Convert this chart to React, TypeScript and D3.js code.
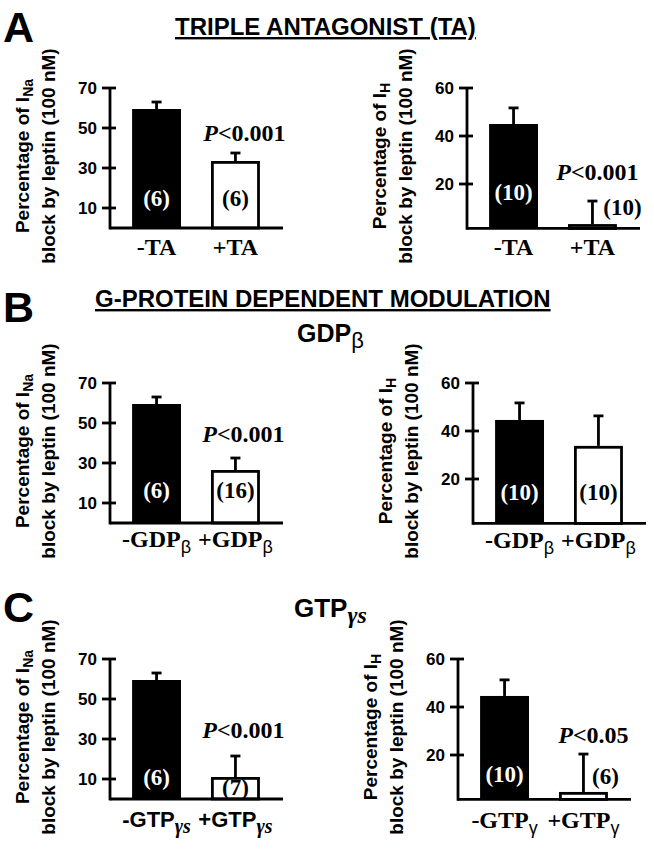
import * as d3 from 'd3';

const W = 654;
const H = 851;
const SANS = '"Liberation Sans", Arial, Helvetica, sans-serif';
const SERIF = '"Liberation Serif", "Times New Roman", Times, serif';

// y-axis ticks
const naTicks = [10, 30, 50, 70];
const ihTicks = [20, 40, 60];

// A: triple antagonist
const taCats = ['-TA', '+TA'];
const naTaMean = [59.5, 33.5];
const naTaSem = [3.5, 4];
const naTaN = [6, 6];
const ihTaMean = [45, 3.3];
const ihTaSem = [6.7, 9.6];
const ihTaN = [10, 10];

// B: GDPβ
const gdpCats = ['-GDP', '+GDP'];
const naGdpMean = [59.5, 26.5];
const naGdpSem = [3.5, 6];
const naGdpN = [6, 16];
const ihGdpMean = [44.6, 33.8];
const ihGdpSem = [7.1, 12.5];
const ihGdpN = [10, 10];

// C: GTPγs
const gtpCats = ['-GTP', '+GTP'];
const naGtpMean = [59.5, 11];
const naGtpSem = [3.5, 10.5];
const naGtpN = [6, 7];
const ihGtpMean = [44.6, 4.6];
const ihGtpSem = [6.7, 15.8];
const ihGtpN = [10, 6];

type PanelProps = {
  left: number;
  top: number;
  current: 'Na' | 'H';
  cats: string[];
  sub: string;
  catFont: 'sans' | 'serif';
  subStyle: 'italic' | 'normal';
  mean: number[];
  sem: number[];
  n: number[];
  p?: string;
  catDy: number;
  nDy: number[];
  nDx?: number[];
  pDx?: number;
  pDy?: number;
};

function Panel({
  left, top, current, cats, sub, catFont, subStyle, mean, sem, n, p,
  catDy, nDy, nDx = [0, 0], pDx = 0, pDy = 0,
}: PanelProps) {
  const isNa = current === 'Na';
  const max = isNa ? 70 : 60;
  const y = d3.scaleLinear().domain([0, max]).range([top + (isNa ? 140 : 144), top]);
  // I_H plots: x axis crosses slightly above zero
  const baseY = y(isNa ? 0 : 1.5);
  const x = d3
    .scaleBand<string>()
    .domain(cats)
    .range([left, left + 172])
    .paddingInner(0.38)
    .paddingOuter(0.28);
  const bw = x.bandwidth();
  const ticks = isNa ? naTicks : ihTicks;
  const cx = (i: number) => (x(cats[i]) as number) + bw / 2;
  const sw = 2.8;

  return (
    <g>
      <text
        transform={`translate(${left - 81},${top + 68}) rotate(-90)`}
        textAnchor="middle"
        fontFamily={SANS}
        fontWeight="bold"
        fontSize={19}
      >
        Percentage of I
        <tspan fontSize={14} dy={4}>{current}</tspan>
      </text>
      <text
        transform={`translate(${left - 55},${top + 68}) rotate(-90)`}
        textAnchor="middle"
        fontFamily={SANS}
        fontWeight="bold"
        fontSize={19}
      >
        block by leptin (100 nM)
      </text>

      {mean.map((m, i) => {
        const bx = x(cats[i]) as number;
        const filled = i === 0;
        return filled ? (
          <rect key={`b${i}`} x={bx} y={y(m)} width={bw} height={baseY - y(m)} fill="#000" />
        ) : (
          <rect
            key={`b${i}`}
            x={bx + sw / 2}
            y={y(m) + sw / 2}
            width={bw - sw}
            height={Math.max(0, baseY - y(m) - sw / 2)}
            fill="#fff"
            stroke="#000"
            strokeWidth={sw}
          />
        );
      })}

      {mean.map((m, i) => (
        <g key={`e${i}`} stroke="#000" strokeWidth={sw}>
          <line x1={cx(i)} x2={cx(i)} y1={y(m)} y2={y(m + sem[i])} />
          <line x1={cx(i) - 5} x2={cx(i) + 5} y1={y(m + sem[i])} y2={y(m + sem[i])} />
        </g>
      ))}

      {/* axes */}
      <line x1={left} x2={left} y1={baseY + sw / 2} y2={y(max)} stroke="#000" strokeWidth={sw} />
      <line x1={left} x2={left + 173} y1={baseY} y2={baseY} stroke="#000" strokeWidth={sw} />
      {ticks.map((t) => (
        <g key={t}>
          <line x1={left - 8} x2={left + 6} y1={y(t)} y2={y(t)} stroke="#000" strokeWidth={sw} />
          <text
            x={left - 13}
            y={y(t)}
            dy="0.36em"
            textAnchor="end"
            fontFamily={SANS}
            fontWeight="bold"
            fontSize={17}
          >
            {t}
          </text>
        </g>
      ))}

      {cats.map((c, i) => (
        <text
          key={c}
          x={cx(i)}
          y={baseY + catDy}
          textAnchor="middle"
          fontFamily={catFont === 'sans' ? SANS : SERIF}
          fontWeight="bold"
          fontSize={catFont === 'sans' ? 22 : 24}
        >
          {c}
          {sub && (
            <tspan
              dy={6}
              fontFamily={subStyle === 'italic' ? SERIF : SANS}
              fontStyle={subStyle}
              fontWeight={subStyle === 'italic' ? 'bold' : 'normal'}
              fontSize={subStyle === 'italic' ? 20 : 18}
            >
              {sub}
            </tspan>
          )}
        </text>
      ))}

      {n.map((v, i) => (
        <text
          key={`n${i}`}
          x={cx(i) + nDx[i]}
          y={baseY - nDy[i]}
          textAnchor="middle"
          fontFamily={SERIF}
          fontWeight="bold"
          fontSize={23}
          fill={i === 0 ? '#fff' : '#000'}
        >
          ({v})
        </text>
      ))}

      {p && (
        <text
          x={cx(1) + pDx}
          y={y(mean[1] + sem[1]) - pDy}
          textAnchor="middle"
          fontFamily={SERIF}
          fontWeight="bold"
          fontSize={24}
        >
          <tspan fontStyle="italic">P</tspan>
          {p}
        </text>
      )}
    </g>
  );
}

export default function App() {
  return (
    <svg
      width={W}
      height={H}
      viewBox={`0 0 ${W} ${H}`}
      style={{ position: 'absolute', left: 0, top: 0, display: 'block', background: '#fff' }}
    >
      <rect width={W} height={H} fill="#fff" />

      {/* A */}
      <text x={3} y={42} fontFamily={SANS} fontWeight="bold" fontSize={43}>A</text>
      <text x={175} y={35} fontFamily={SANS} fontWeight="bold" fontSize={24} textDecoration="underline">
        TRIPLE ANTAGONIST (TA)
      </text>
      <Panel
        left={110} top={88} current="Na" cats={taCats} sub="" catFont="serif" subStyle="normal"
        mean={naTaMean} sem={naTaSem} n={naTaN} p="<0.001"
        catDy={27} nDy={[22, 22]} pDx={9} pDy={12}
      />
      <Panel
        left={467} top={88} current="H" cats={taCats} sub="" catFont="serif" subStyle="normal"
        mean={ihTaMean} sem={ihTaSem} n={ihTaN} p="<0.001"
        catDy={27} nDy={[28, 13]} nDx={[0, 30]} pDx={5} pDy={21}
      />

      {/* B */}
      <text x={3} y={322} fontFamily={SANS} fontWeight="bold" fontSize={43}>B</text>
      <text x={95} y={307} fontFamily={SANS} fontWeight="bold" fontSize={24} textDecoration="underline">
        G-PROTEIN DEPENDENT MODULATION
      </text>
      <text x={297} y={342} fontFamily={SANS} fontWeight="bold" fontSize={25}>
        GDP
        <tspan dy={6} fontWeight="normal" fontSize={22}>β</tspan>
      </text>
      <Panel
        left={110} top={383} current="Na" cats={gdpCats} sub="β" catFont="serif" subStyle="normal"
        mean={naGdpMean} sem={naGdpSem} n={naGdpN} p="<0.001"
        catDy={24} nDy={[25, 25]} pDx={8} pDy={16}
      />
      <Panel
        left={473} top={383} current="H" cats={gdpCats} sub="β" catFont="serif" subStyle="normal"
        mean={ihGdpMean} sem={ihGdpSem} n={ihGdpN}
        catDy={25} nDy={[23, 23]}
      />

      {/* C */}
      <text x={3} y={622} fontFamily={SANS} fontWeight="bold" fontSize={43}>C</text>
      <text x={294} y={617} fontFamily={SANS} fontWeight="bold" fontSize={26}>
        GTP
        <tspan dy={6} fontFamily={SERIF} fontStyle="italic" fontSize={24}>γs</tspan>
      </text>
      <Panel
        left={110} top={659} current="Na" cats={gtpCats} sub="γs" catFont="sans" subStyle="italic"
        mean={naGtpMean} sem={naGtpSem} n={naGtpN} p="<0.001"
        catDy={28} nDy={[14, 4]} pDx={8} pDy={18}
      />
      <Panel
        left={458} top={659} current="H" cats={gtpCats} sub="γ" catFont="serif" subStyle="normal"
        mean={ihGtpMean} sem={ihGtpSem} n={ihGtpN} p="<0.05"
        catDy={29} nDy={[17, 15]} nDx={[0, 22]} pDx={10} pDy={11}
      />
    </svg>
  );
}
